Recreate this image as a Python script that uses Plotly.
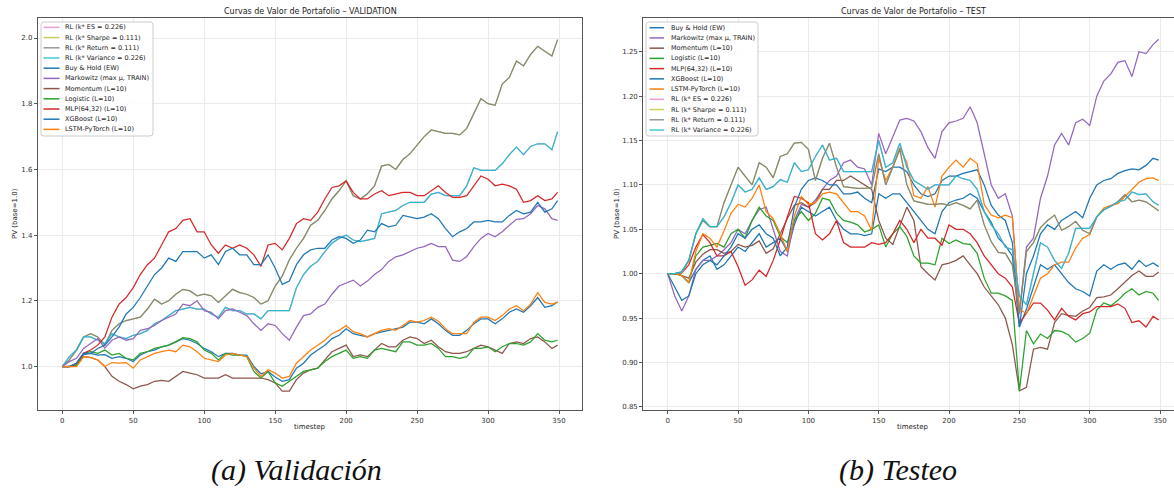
import plotly.graph_objects as go

W, H = 1174, 491

# ---------------- data ----------------
T = list(range(0, 350, 5)) + [349]

# VALIDATION panel
V_RET = [1.00,1.02,1.05,1.09,1.10,1.09,1.065,1.11,1.13,1.14,
         1.145,1.15,1.175,1.205,1.19,1.20,1.22,1.235,1.23,1.215,
         1.22,1.215,1.195,1.215,1.235,1.225,1.22,1.21,1.19,1.20,
         1.245,1.275,1.325,1.36,1.39,1.43,1.445,1.475,1.51,1.535,
         1.565,1.52,1.51,1.526,1.55,1.61,1.615,1.60,1.63,1.648,
         1.675,1.70,1.72,1.715,1.71,1.71,1.705,1.725,1.77,1.815,
         1.80,1.795,1.86,1.88,1.93,1.915,1.95,1.975,1.96,1.945,
         1.995]
V_VAR = [1.00,1.03,1.05,1.09,1.09,1.08,1.07,1.10,1.09,1.085,
         1.095,1.10,1.11,1.13,1.14,1.155,1.17,1.175,1.18,1.175,
         1.175,1.16,1.15,1.18,1.17,1.17,1.16,1.16,1.145,1.17,
         1.17,1.17,1.17,1.24,1.28,1.305,1.32,1.35,1.375,1.39,
         1.40,1.385,1.38,1.385,1.39,1.465,1.47,1.475,1.49,1.50,
         1.50,1.50,1.525,1.53,1.52,1.52,1.52,1.55,1.605,1.597,
         1.597,1.597,1.617,1.645,1.668,1.645,1.67,1.678,1.678,1.66,
         1.715]
V_MRK = [1.00,1.015,1.025,1.055,1.07,1.085,1.056,1.08,1.09,1.08,
         1.085,1.11,1.115,1.125,1.14,1.15,1.16,1.19,1.185,1.20,
         1.17,1.165,1.145,1.17,1.175,1.165,1.155,1.13,1.11,1.13,
         1.125,1.10,1.08,1.12,1.155,1.16,1.18,1.19,1.22,1.245,
         1.255,1.263,1.245,1.26,1.28,1.295,1.32,1.334,1.34,1.35,
         1.36,1.365,1.375,1.365,1.365,1.324,1.32,1.335,1.365,1.39,
         1.405,1.395,1.41,1.43,1.448,1.45,1.465,1.49,1.48,1.45,
         1.445]
V_MOM = [1.00,1.00,1.002,1.03,1.027,1.02,1.00,0.97,0.955,0.945,
         0.932,0.94,0.945,0.955,0.958,0.955,0.97,0.985,0.98,0.975,
         0.965,0.965,0.965,0.975,0.965,0.965,0.965,0.965,0.965,0.96,
         0.95,0.925,0.925,0.96,0.98,0.99,0.995,1.02,1.045,1.055,
         1.065,1.03,1.035,1.03,1.05,1.07,1.06,1.06,1.08,1.09,
         1.085,1.07,1.08,1.06,1.045,1.04,1.04,1.045,1.055,1.065,
         1.06,1.05,1.04,1.07,1.075,1.07,1.085,1.09,1.075,1.055,
         1.065]
V_LOG = [1.00,1.00,1.005,1.04,1.045,1.04,1.05,1.035,1.04,1.025,
         1.02,1.04,1.045,1.055,1.06,1.065,1.075,1.088,1.085,1.075,
         1.05,1.04,1.02,1.04,1.035,1.035,1.03,0.985,0.965,0.985,
         0.95,0.94,0.955,0.97,0.985,0.99,0.995,1.015,1.03,1.04,
         1.05,1.025,1.03,1.025,1.05,1.055,1.05,1.045,1.075,1.075,
         1.065,1.065,1.07,1.055,1.03,1.03,1.025,1.03,1.055,1.055,
         1.06,1.045,1.06,1.07,1.07,1.065,1.075,1.10,1.08,1.075,
         1.08]
V_MLP = [1.00,1.00,1.01,1.04,1.05,1.065,1.09,1.15,1.19,1.21,
         1.24,1.28,1.31,1.33,1.37,1.41,1.42,1.445,1.45,1.41,
         1.41,1.37,1.345,1.37,1.36,1.37,1.36,1.34,1.305,1.37,
         1.375,1.355,1.39,1.435,1.45,1.445,1.47,1.51,1.545,1.55,
         1.565,1.53,1.51,1.51,1.525,1.535,1.52,1.525,1.53,1.53,
         1.52,1.52,1.535,1.55,1.53,1.515,1.515,1.52,1.55,1.58,
         1.57,1.55,1.555,1.55,1.54,1.50,1.505,1.52,1.505,1.51,
         1.53]
V_XGB = [1.00,1.00,1.01,1.04,1.04,1.055,1.065,1.09,1.12,1.16,
         1.18,1.21,1.245,1.28,1.30,1.33,1.32,1.35,1.35,1.35,
         1.33,1.34,1.31,1.35,1.36,1.34,1.34,1.31,1.31,1.34,
         1.30,1.25,1.26,1.31,1.34,1.355,1.36,1.36,1.385,1.395,
         1.39,1.375,1.385,1.415,1.41,1.435,1.425,1.43,1.46,1.455,
         1.45,1.455,1.465,1.45,1.42,1.395,1.41,1.42,1.44,1.44,
         1.445,1.44,1.44,1.46,1.475,1.465,1.47,1.50,1.47,1.48,
         1.505]
V_BH = [1.00,1.00,1.005,1.036,1.04,1.035,1.036,1.025,1.03,1.025,
        1.015,1.035,1.045,1.05,1.06,1.065,1.075,1.085,1.08,1.07,
        1.055,1.045,1.03,1.04,1.04,1.035,1.035,1.00,0.978,0.985,
        0.968,0.955,0.96,0.995,1.01,1.035,1.05,1.065,1.085,1.095,
        1.115,1.10,1.095,1.09,1.10,1.105,1.11,1.115,1.12,1.135,
        1.135,1.13,1.145,1.13,1.11,1.095,1.095,1.11,1.13,1.145,
        1.145,1.13,1.145,1.165,1.175,1.165,1.185,1.21,1.18,1.185,
        1.197]
V_LSTM = [1.00,1.00,1.00,1.03,1.028,1.02,1.00,1.012,1.01,1.012,
          0.995,1.02,1.03,1.04,1.045,1.05,1.045,1.065,1.06,1.045,
          1.025,1.02,1.015,1.035,1.04,1.035,1.03,0.995,0.97,0.99,
          0.98,0.965,0.97,1.01,1.03,1.05,1.065,1.08,1.10,1.11,
          1.125,1.106,1.10,1.09,1.10,1.11,1.115,1.11,1.125,1.14,
          1.135,1.14,1.15,1.138,1.115,1.10,1.10,1.10,1.135,1.15,
          1.15,1.14,1.155,1.175,1.185,1.17,1.19,1.225,1.195,1.19,
          1.195]

# TEST panel
T_RET = [1.00,1.00,1.002,1.015,1.045,1.06,1.053,1.053,1.08,1.10,
         1.12,1.11,1.10,1.125,1.12,1.108,1.132,1.135,1.147,1.148,
         1.14,1.105,1.13,1.147,1.12,1.098,1.097,1.096,1.096,1.097,
         1.135,1.10,1.12,1.14,1.10,1.082,1.08,1.078,1.078,1.079,
         1.077,1.08,1.077,1.073,1.083,1.055,1.036,1.024,1.023,1.01,
         0.955,1.025,1.035,1.052,1.06,1.066,1.049,1.053,1.059,1.049,
         1.045,1.064,1.072,1.076,1.081,1.089,1.081,1.083,1.081,1.076,
         1.071]
T_VAR = [1.00,1.00,1.002,1.015,1.045,1.062,1.053,1.053,1.064,1.08,
         1.10,1.092,1.095,1.108,1.095,1.098,1.106,1.103,1.125,1.115,
         1.117,1.132,1.145,1.128,1.13,1.115,1.115,1.115,1.115,1.115,
         1.15,1.12,1.125,1.147,1.12,1.105,1.10,1.095,1.10,1.10,
         1.10,1.11,1.107,1.105,1.095,1.07,1.055,1.045,1.03,1.027,
         0.975,0.965,1.00,1.035,1.03,1.015,1.006,1.023,1.051,1.051,
         1.051,1.064,1.072,1.076,1.081,1.083,1.092,1.089,1.09,1.081,
         1.077]
T_MRK = [1.00,0.975,0.958,0.975,1.005,1.015,1.015,1.02,1.027,1.035,
         1.05,1.045,1.06,1.072,1.075,1.05,1.025,1.02,1.06,1.078,
         1.075,1.083,1.095,1.105,1.11,1.125,1.128,1.12,1.118,1.10,
         1.158,1.135,1.155,1.173,1.175,1.172,1.16,1.142,1.13,1.16,
         1.17,1.172,1.175,1.188,1.17,1.135,1.10,1.085,1.09,1.065,
         0.955,1.03,1.04,1.085,1.11,1.145,1.158,1.145,1.17,1.174,
         1.167,1.20,1.217,1.225,1.238,1.24,1.222,1.25,1.248,1.258,
         1.264]
T_MOM = [1.00,1.00,0.998,0.995,1.013,1.022,1.027,1.027,1.023,1.025,
         1.033,1.03,1.032,1.037,1.023,1.028,1.045,1.062,1.077,1.08,
         1.075,1.08,1.095,1.095,1.105,1.105,1.11,1.105,1.10,1.095,
         1.06,1.04,1.033,1.053,1.075,1.06,1.008,1.0,0.993,1.01,
         1.012,1.015,1.02,1.01,1.0,0.985,0.975,0.965,0.95,0.92,
         0.868,0.872,0.915,0.917,0.915,0.945,0.955,0.953,0.952,0.958,
         0.962,0.973,0.974,0.976,0.983,0.99,0.998,1.003,0.997,0.997,
         1.002]
T_LOG = [1.00,1.00,0.998,0.99,1.02,1.03,1.032,1.034,1.03,1.045,
         1.05,1.04,1.06,1.075,1.065,1.06,1.042,1.035,1.06,1.07,
         1.06,1.068,1.085,1.083,1.068,1.06,1.058,1.055,1.047,1.05,
         1.055,1.03,1.045,1.053,1.042,1.02,1.012,1.012,1.01,1.04,
         1.034,1.038,1.034,1.033,1.023,0.995,0.978,0.978,0.975,0.97,
         0.868,0.936,0.921,0.932,0.927,0.936,0.935,0.931,0.923,0.927,
         0.933,0.959,0.967,0.964,0.97,0.978,0.983,0.976,0.98,0.978,
         0.97]
T_MLP = [1.00,1.00,1.001,1.01,1.03,1.044,1.035,1.02,1.02,1.025,
         1.008,0.987,0.993,1.004,0.997,1.015,1.038,1.064,1.087,1.085,
         1.08,1.045,1.038,1.045,1.06,1.035,1.03,1.03,1.03,1.035,
         1.033,1.035,1.045,1.06,1.05,1.035,1.05,1.04,1.04,1.032,
         1.055,1.05,1.05,1.045,1.035,1.02,1.01,1.0,0.995,0.985,
         0.944,0.955,0.967,0.967,0.959,0.948,0.961,0.952,0.948,0.955,
         0.957,0.963,0.963,0.963,0.966,0.961,0.945,0.947,0.94,0.952,
         0.948]
T_XGB = [1.00,0.985,0.97,0.975,1.00,1.01,1.015,1.01,1.02,1.03,
         1.045,1.04,1.05,1.055,1.045,1.04,1.02,1.03,1.075,1.095,
         1.105,1.108,1.105,1.10,1.10,1.09,1.09,1.092,1.085,1.08,
         1.118,1.115,1.12,1.12,1.115,1.10,1.09,1.087,1.09,1.105,
         1.11,1.11,1.113,1.115,1.117,1.10,1.077,1.066,1.06,1.035,
         0.94,1.00,1.02,1.045,1.055,1.05,1.06,1.065,1.07,1.063,
         1.085,1.10,1.105,1.107,1.113,1.116,1.118,1.117,1.122,1.13,
         1.128]
T_BH = [1.00,1.00,0.998,0.99,1.005,1.015,1.02,1.005,1.01,1.02,
        1.03,1.025,1.035,1.045,1.03,1.035,1.04,1.025,1.055,1.075,
        1.07,1.065,1.07,1.075,1.06,1.05,1.045,1.045,1.043,1.045,
        1.09,1.085,1.09,1.09,1.08,1.07,1.06,1.05,1.045,1.07,
        1.08,1.083,1.085,1.09,1.085,1.07,1.058,1.04,1.032,1.02,
        0.94,0.96,0.985,1.01,1.005,1.01,1.0,0.99,0.983,0.98,
        0.975,1.003,1.01,1.005,1.01,1.012,1.005,1.015,1.008,1.012,
        1.008]
T_LSTM = [1.00,1.00,0.998,0.99,1.025,1.045,1.04,1.03,1.048,1.068,
          1.078,1.075,1.085,1.10,1.07,1.062,1.045,1.025,1.065,1.087,
          1.078,1.08,1.09,1.092,1.09,1.08,1.07,1.07,1.065,1.049,
          1.13,1.105,1.12,1.142,1.125,1.088,1.085,1.098,1.075,1.11,
          1.12,1.128,1.12,1.13,1.124,1.078,1.066,1.063,1.066,1.063,
          0.96,0.955,0.975,0.995,1.0,1.01,1.013,1.013,1.029,1.04,
          1.044,1.064,1.074,1.077,1.079,1.087,1.095,1.103,1.107,1.108,
          1.105]

LEFT_TICKS_Y = [1.0, 1.2, 1.4, 1.6, 1.8, 2.0]
RIGHT_TICKS_Y = [0.85, 0.90, 0.95, 1.00, 1.05, 1.10, 1.15, 1.20, 1.25]
TICKS_X = [0, 50, 100, 150, 200, 250, 300, 350]

# ---------------- styling ----------------
C = dict(pink='#e377c2', olive='#bcbd22', gray='#7f7f7f', cyan='#17becf',
         blue='#1f77b4', purple='#9467bd', brown='#8c564b', green='#2ca02c',
         red='#d62728', orange='#ff7f0e')
OP_UNDER = 0.7   # RL curves hidden underneath (identical k*)
OP_TOP = 0.9     # RL curves drawn on top
FONT = "DejaVu Sans"

left_series = [
    ("RL (k* ES = 0.226)", V_VAR, C['pink'], OP_UNDER),
    ("RL (k* Sharpe = 0.111)", V_RET, C['olive'], OP_UNDER),
    ("RL (k* Return = 0.111)", V_RET, C['gray'], OP_TOP),
    ("RL (k* Variance = 0.226)", V_VAR, C['cyan'], OP_TOP),
    ("Buy & Hold (EW)", V_BH, C['blue'], 1.0),
    ("Markowitz (max μ, TRAIN)", V_MRK, C['purple'], 1.0),
    ("Momentum (L=10)", V_MOM, C['brown'], 1.0),
    ("Logistic (L=10)", V_LOG, C['green'], 1.0),
    ("MLP(64,32) (L=10)", V_MLP, C['red'], 1.0),
    ("XGBoost (L=10)", V_XGB, C['blue'], 1.0),
    ("LSTM-PyTorch (L=10)", V_LSTM, C['orange'], 1.0),
]
right_series = [
    ("Buy & Hold (EW)", T_BH, C['blue'], 1.0),
    ("Markowitz (max μ, TRAIN)", T_MRK, C['purple'], 1.0),
    ("Momentum (L=10)", T_MOM, C['brown'], 1.0),
    ("Logistic (L=10)", T_LOG, C['green'], 1.0),
    ("MLP(64,32) (L=10)", T_MLP, C['red'], 1.0),
    ("XGBoost (L=10)", T_XGB, C['blue'], 1.0),
    ("LSTM-PyTorch (L=10)", T_LSTM, C['orange'], 1.0),
    ("RL (k* ES = 0.226)", T_VAR, C['pink'], OP_UNDER),
    ("RL (k* Sharpe = 0.111)", T_RET, C['olive'], OP_UNDER),
    ("RL (k* Return = 0.111)", T_RET, C['gray'], OP_TOP),
    ("RL (k* Variance = 0.226)", T_VAR, C['cyan'], OP_TOP),
]

fig = go.Figure()
for name, ys, col, op in left_series:
    fig.add_trace(go.Scatter(x=T, y=ys, mode='lines', name=name, opacity=op,
                             line=dict(color=col, width=1.25), showlegend=False,
                             xaxis='x', yaxis='y'))
for name, ys, col, op in right_series:
    fig.add_trace(go.Scatter(x=T, y=ys, mode='lines', name=name, opacity=op,
                             line=dict(color=col, width=1.25), showlegend=False,
                             xaxis='x2', yaxis='y2'))

def px(x):
    return x / W

def py(y):
    return 1 - y / H

SPINE = '#555555'
GRID = '#ebebeb'
TICKC = '#333333'
axis_common = dict(showgrid=True, gridcolor=GRID, gridwidth=1, zeroline=False,
                   showline=True, linecolor=SPINE, linewidth=1.2,
                   ticks='outside', ticklen=3, tickwidth=1, tickcolor=SPINE,
                   tickfont=dict(family=FONT, size=7, color=TICKC))
ydom = [py(410), py(18)]

fig.update_layout(
    width=W, height=H, margin=dict(l=0, r=0, t=0, b=0),
    paper_bgcolor='white', plot_bgcolor='white', showlegend=False,
    xaxis=dict(domain=[px(38), px(582)], range=[-17.1, 366.2], anchor='y',
               tickvals=TICKS_X, mirror=True, **axis_common),
    yaxis=dict(domain=ydom, range=[0.8676, 2.0609], anchor='x',
               tickvals=LEFT_TICKS_Y, ticktext=[f"{v:.1f}" for v in LEFT_TICKS_Y],
               mirror=True, **axis_common),
    xaxis2=dict(domain=[px(643.3), 1.0], range=[-17.35, 359.9], anchor='y2',
                tickvals=TICKS_X, mirror=True, **axis_common),
    yaxis2=dict(domain=ydom, range=[0.8465, 1.288], anchor='x2',
                tickvals=RIGHT_TICKS_Y, ticktext=[f"{v:.2f}" for v in RIGHT_TICKS_Y],
                mirror=False, **axis_common),
)

shapes = []
annotations = []

def rounded_rect(x0, y0, x1, y1, r=3):
    rx, ry = r / W, r / H
    X0, X1 = px(x0), px(x1)
    Y0, Y1 = py(y1), py(y0)
    return (f"M {X0+rx},{Y0} L {X1-rx},{Y0} Q {X1},{Y0} {X1},{Y0+ry} "
            f"L {X1},{Y1-ry} Q {X1},{Y1} {X1-rx},{Y1} L {X0+rx},{Y1} "
            f"Q {X0},{Y1} {X0},{Y1-ry} L {X0},{Y0+ry} Q {X0},{Y0} {X0+rx},{Y0} Z")

def add_legend(series, bx0, by0, bx1, by1, lx0, lx1, tx, ty0, dy):
    shapes.append(dict(type='path', xref='paper', yref='paper', layer='above',
                       path=rounded_rect(bx0, by0, bx1, by1),
                       fillcolor='rgba(255,255,255,0.85)',
                       line=dict(color='#cccccc', width=1)))
    for i, (name, _ys, col, op) in enumerate(series):
        yy = ty0 + dy * i
        shapes.append(dict(type='line', xref='paper', yref='paper', layer='above',
                           x0=px(lx0), x1=px(lx1), y0=py(yy), y1=py(yy),
                           opacity=min(op, 0.8) if op < 1 else 1.0,
                           line=dict(color=col, width=1.5)))
        annotations.append(dict(text=name, xref='paper', yref='paper',
                                x=px(tx), y=py(yy), xanchor='left', yanchor='middle',
                                showarrow=False,
                                font=dict(family=FONT, size=6.5, color='#222222')))

add_legend(left_series, 41, 22, 153, 136, 43.5, 59.5, 63, 27.4, 10.2)
add_legend(right_series, 646, 22, 758, 136, 649.5, 664, 668.5, 27.7, 10.23)

def text(t, x, y, size, angle=0, family=FONT, color='#222222'):
    annotations.append(dict(text=t, xref='paper', yref='paper', x=px(x), y=py(y),
                            xanchor='center', yanchor='middle', showarrow=False,
                            textangle=angle,
                            font=dict(family=family, size=size, color=color)))

text("Curvas de Valor de Portafolio – VALIDATION", 310, 11, 8)
text("Curvas de Valor de Portafolio – TEST", 913, 11, 8)
text("PV (base=1.0)", 15, 214, 7, angle=-90)
text("PV (base=1.0)", 617, 214, 7, angle=-90)
text("timestep", 310, 427, 7)
text("timestep", 913, 427, 7)
text("<i>(a) Validación</i>", 297, 470, 30, family="Liberation Serif", color='#111111')
text("<i>(b) Testeo</i>", 898, 470, 30, family="Liberation Serif", color='#111111')

fig.update_layout(shapes=shapes, annotations=annotations)
fig.write_html("out.html",
               config={'displayModeBar': False},
               post_script="document.body.style.margin='0';"
                           "document.body.style.overflow='hidden';")
